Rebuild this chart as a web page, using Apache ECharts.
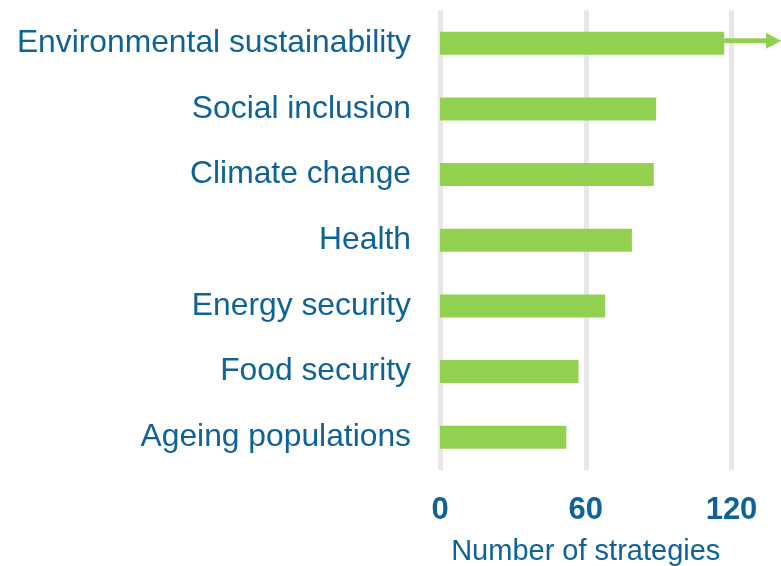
<!DOCTYPE html>
<html>
<head>
<meta charset="utf-8">
<script src="https://cdn.jsdelivr.net/npm/echarts@6/dist/echarts.min.js"></script>
<style>
html,body{margin:0;padding:0;background:#fff;}
#chart{width:781px;height:566px;}
</style>
</head>
<body>
<div id="chart"></div>
<script>
var categories = ['Environmental sustainability','Social inclusion','Climate change','Health','Energy security','Food security','Ageing populations'];
var values = [117, 89, 88, 79, 68, 57, 52];
var xTicks = [0, 60, 120];
// off-scale arrow for the first category: [start, head base, tip]
var arrowCategory = 'Environmental sustainability';
var arrowValues = [117, 134.2, 140.5];
var axisName = 'Number of strategies';

var green = '#92d050';
var blue = '#0e6298';

var chart = echarts.init(document.getElementById('chart'), null, {renderer:'canvas'});
chart.setOption({
  animation:false,
  backgroundColor:'#ffffff',
  grid:{left:440, right:49.5, top:10.5, bottom:96, containLabel:false, outerBoundsMode:'none'},
  xAxis:{
    type:'value', min:xTicks[0], max:xTicks[xTicks.length-1], interval:xTicks[1]-xTicks[0],
    axisLine:{show:false}, axisTick:{show:false},
    splitLine:{show:true, lineStyle:{color:'#e7e7e7', width:5}},
    axisLabel:{color:blue, fontSize:31, fontWeight:'bold', fontFamily:'Liberation Sans, Arial, sans-serif', margin:25},
    name:axisName, nameLocation:'middle', nameGap:67,
    nameTextStyle:{color:blue, fontSize:29, fontFamily:'Liberation Sans, Arial, sans-serif'}
  },
  yAxis:{
    type:'category', data:categories, inverse:true,
    axisLine:{show:false}, axisTick:{show:false}, splitLine:{show:false},
    axisLabel:{color:blue, fontSize:31.8, fontFamily:'Liberation Sans, Arial, sans-serif', margin:29, padding:[5,0,0,0]}
  },
  series:[
    {type:'bar', data:values, barWidth:23, itemStyle:{color:green}, z:3},
    {type:'custom', clip:false, z:4,
     encode:{x:[0,2,3], y:1},
     data:[[arrowValues[0], arrowCategory, arrowValues[1], arrowValues[2]]],
     renderItem:function(params, api){
       var idx = api.value(1);
       var s = api.coord([api.value(0), idx]);
       var hb = api.coord([api.value(2), idx]);
       var tip = api.coord([api.value(3), idx]);
       var y = s[1] - 2.5;
       return {type:'group', children:[
         {type:'rect', shape:{x:s[0], y:y-2.5, width:hb[0]-s[0], height:5}, style:{fill:green}},
         {type:'polygon', shape:{points:[[hb[0], y-8],[tip[0], y],[hb[0], y+8]]}, style:{fill:green}}
       ]};
     }
    }
  ]
});
</script>
</body>
</html>
